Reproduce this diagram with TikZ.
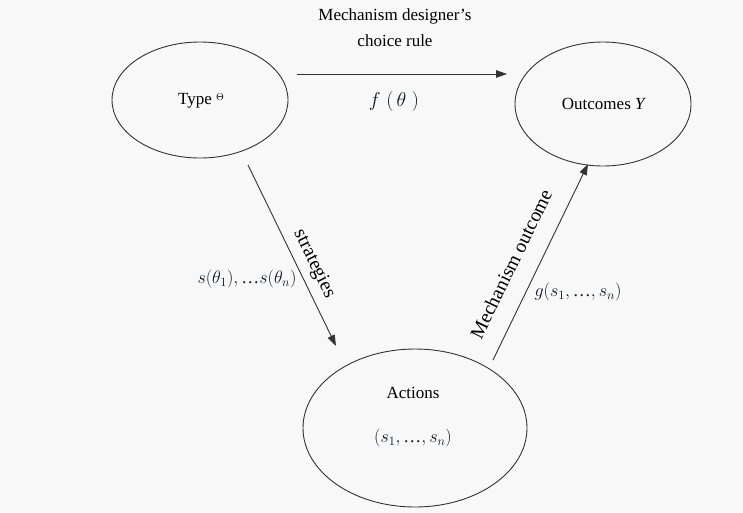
\documentclass[tikz,border=0pt]{standalone}
\usepackage{fix-cm}
\usepackage{amsmath}
\usepackage{fontspec}
\setmainfont{Liberation Serif}
\usetikzlibrary{arrows.meta,shapes.geometric}
\definecolor{bg}{HTML}{F8F8F8}
\definecolor{ln}{HTML}{333333}
\definecolor{mt}{HTML}{101528}
\newcommand{\tel}{\text{…}}
\tikzset{
  ell/.style={ellipse, draw=ln, line width=0.9pt, inner sep=0pt},
  arr/.style={draw=ln, line width=0.9pt, -{Triangle[length=11pt,width=7.5pt]}},
  lbl/.style={font=\fontsize{17}{20}\selectfont, text=black, inner sep=1pt},
  rlbl/.style={font=\fontsize{19.5}{22}\selectfont, text=black, inner sep=1pt},
  mlbl/.style={font=\fontsize{18}{22}\selectfont, text=mt, inner sep=1pt}
}
\begin{document}
\begin{tikzpicture}[x=1pt,y=-1pt]
\path[fill=bg] (0,0) rectangle (743,512);
\useasboundingbox (0,0) rectangle (743,512);
% ellipses
\node[ell, minimum width=176pt, minimum height=116pt] (t) at (200,100) {};
\node[ell, minimum width=176pt, minimum height=124pt] (o) at (603,104) {};
\node[ell, minimum width=224pt, minimum height=158pt] (a) at (415,428) {};
% ellipse texts
\node[lbl] (tt) at (201,101) {Type \raisebox{4pt}{\fontsize{10}{12}\selectfont$\Theta$}};
\node[lbl] (ot) at (604,104) {Outcomes \textit{Y}};
\node[lbl] (at) at (413,393) {Actions};
\node[mlbl] (as) at (413,438) {$(s_1,\tel,s_n)$};
% arrow endpoints
\coordinate (p1) at (297,74);
\coordinate (p2) at (507,74);
\coordinate (q1) at (248,165);
\coordinate (q2) at (336,346);
\coordinate (r1) at (493,360);
\coordinate (r2) at (588,164);
\draw[arr] (p1) -- (p2);
\draw[arr] (q1) -- (q2);
\draw[arr] (r1) -- (r2);
% arrow labels
\node[lbl] (m1) at (395,16) {Mechanism designer's};
\node[lbl] (m2) at (395,41) {choice rule};
\node[mlbl, font=\fontsize{20}{24}\selectfont] (f) at (394,101) {$f\;(\,\theta\;)$};
\node[rlbl, rotate=-64] (st) at (314,264) {strategies};
\node[mlbl] (sl) at (247,279) {$s(\theta_1),\tel s(\theta_n)$};
\node[rlbl, rotate=64] (mo) at (511,264) {Mechanism outcome};
\node[mlbl] (g) at (578,292) {$g(s_1,\tel,s_n)$};
\end{tikzpicture}
\end{document}
